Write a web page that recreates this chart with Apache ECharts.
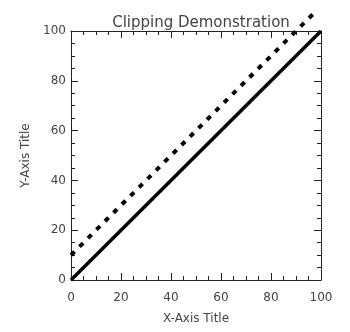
<!DOCTYPE html>
<html><head><meta charset="utf-8">
<script src="https://cdn.jsdelivr.net/npm/echarts@6/dist/echarts.min.js"></script>
<style>html,body{margin:0;padding:0;background:#fff}#c{width:350px;height:332px}</style>
</head><body><div id="c"></div>
<script>
var titleText = "Clipping Demonstration";
var xTitle = "X-Axis Title";
var yTitle = "Y-Axis Title";
var solidX = [0, 100];
var solidY = [0, 100];
var dashedX = [0, 97];
var dashedY = [10, 107];

var font = "DejaVu Sans";
var txt = "#444";
var axisCol = "#222";

function pairs(xs, ys){ return xs.map(function(x,i){return [x, ys[i]];}); }

function axisBase(pos, show){
  return {
    type:'value', min:0, max:100, interval:20, position:pos,
    axisLine:{show:true, onZero:false, lineStyle:{color:axisCol, width:1}},
    axisTick:{show:true, inside:true, length:7, lineStyle:{color:axisCol}},
    minorTick:{show:true, splitNumber:4, length:4, lineStyle:{color:axisCol}},
    splitLine:{show:false},
    axisLabel:{show:show, color:txt, fontFamily:font, fontSize:12, margin:12}
  };
}
var xb = axisBase('bottom', true);
xb.name = xTitle; xb.nameLocation='middle'; xb.nameGap=33;
xb.nameTextStyle={color:txt, fontFamily:font, fontSize:12};
var xt = axisBase('top', false);
var yl = axisBase('left', true);
yl.name = yTitle; yl.nameLocation='middle'; yl.nameGap=31;
yl.nameTextStyle={color:txt, fontFamily:font, fontSize:12};
yl.axisLabel.margin = 5;
var yr = axisBase('right', false);

var chart = echarts.init(document.getElementById('c'), null, {renderer:'canvas'});
chart.setOption({
  animation:false,
  backgroundColor:'#fff',
  title:{text:titleText, left:196, top:11, textAlign:'center',
    textStyle:{color:txt, fontFamily:font, fontSize:15, fontWeight:'normal'}},
  grid:{left:71, right:29, top:31, bottom:52, containLabel:false},
  xAxis:[xb, xt],
  yAxis:[yl, yr],
  series:[
    {type:'line', data:pairs(solidX, solidY), xAxisIndex:0, yAxisIndex:0,
     showSymbol:false, symbol:'none', clip:false,
     lineStyle:{color:'#000', width:3.5, type:'solid'}},
    {type:'line', data:pairs(dashedX, dashedY), xAxisIndex:0, yAxisIndex:0,
     showSymbol:false, symbol:'none', clip:false,
     lineStyle:{color:'#000', width:4, type:[5,7], cap:'butt'}}
  ]
});
</script></body></html>
